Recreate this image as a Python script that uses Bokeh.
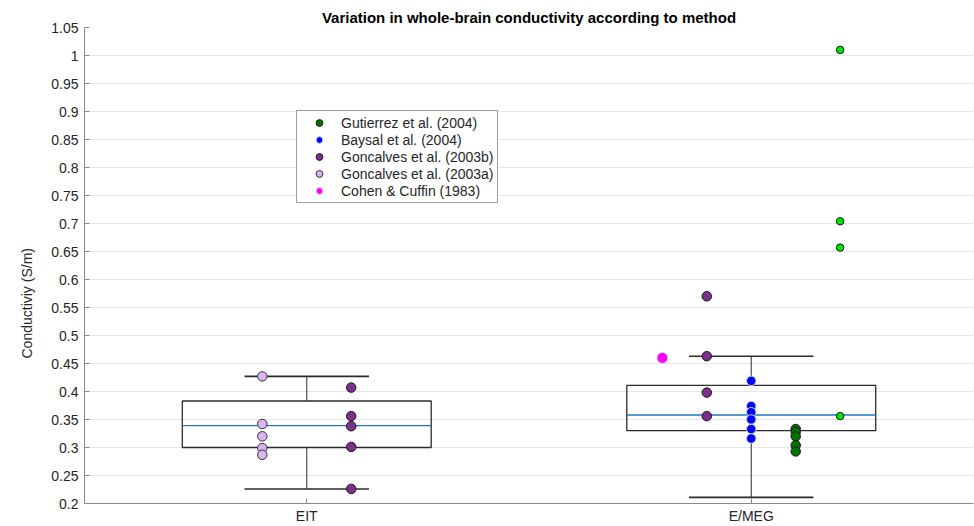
from bokeh.plotting import figure
from bokeh.models import Range1d, FixedTicker, Legend, LegendItem, ColumnDataSource, Title
from bokeh.embed import file_html
from bokeh.resources import INLINE

# ---------------- data ----------------
categories = ["EIT", "E/MEG"]
category_pos = [1, 2]

# box-plot statistics per category
box_q1 = [0.300, 0.330]
box_median = [0.339, 0.358]
box_q3 = [0.383, 0.411]
whisker_low = [0.226, 0.211]
whisker_high = [0.427, 0.463]

y_ticks = [0.2, 0.25, 0.3, 0.35, 0.4, 0.45, 0.5, 0.55, 0.6, 0.65, 0.7, 0.75,
           0.8, 0.85, 0.9, 0.95, 1.0, 1.05]
y_tick_labels = ["0.2", "0.25", "0.3", "0.35", "0.4", "0.45", "0.5", "0.55", "0.6",
                 "0.65", "0.7", "0.75", "0.8", "0.85", "0.9", "0.95", "1", "1.05"]

# individual study values (S/m)
gutierrez_2004_emeg = [0.333, 0.328, 0.320, 0.304, 0.293]
baysal_2004_emeg = [0.419, 0.374, 0.363, 0.350, 0.333, 0.316]
goncalves_2003b_eit = [0.407, 0.356, 0.338, 0.301, 0.226]
goncalves_2003b_emeg = [0.570, 0.463, 0.398, 0.356]
goncalves_2003a_eit = [0.427, 0.342, 0.320, 0.299, 0.287]
cohen_cuffin_1983_emeg = [0.460]
other_emeg = [1.010, 0.704, 0.657, 0.356]

FONT = "Liberation Sans"

p = figure(width=974, height=526, output_backend="svg", toolbar_location=None,
           x_range=Range1d(0.5, 2.5), y_range=Range1d(0.2, 1.05),
           min_border_left=84, min_border_right=1, min_border_top=27, min_border_bottom=23,
           background_fill_color="white", border_fill_color="white")
p.outline_line_color = None

p.title.text = "Variation in whole-brain conductivity according to method"
p.title.align = "center"
p.title.text_font = FONT
p.title.text_font_size = "15px"
p.title.text_font_style = "bold"
p.title.text_color = "#000000"
p.title.standoff = 4

# axes
p.xaxis.ticker = FixedTicker(ticks=category_pos)
p.xaxis.major_label_overrides = {c: n for c, n in zip(category_pos, categories)}
p.yaxis.ticker = FixedTicker(ticks=y_ticks)
p.yaxis.major_label_overrides = {t: l for t, l in zip(y_ticks, y_tick_labels)}
for ax in (p.xaxis, p.yaxis):
    ax.axis_line_color = "#8a8a8a"
    ax.major_tick_line_color = "#8a8a8a"
    ax.major_tick_in = 5
    ax.major_tick_out = 0
    ax.minor_tick_line_color = None
    ax.major_label_text_font = FONT
    ax.major_label_text_font_size = "14px"
    ax.major_label_text_color = "#262626"
p.xaxis.major_label_standoff = 4
p.yaxis.major_label_standoff = 6
p.xgrid.grid_line_color = None
p.ygrid.grid_line_color = "#e6e6e6"
p.ygrid.grid_line_width = 1

# y-axis title, sitting below the axis centre as in the reference
ytitle = Title(text="Conductiviy (S/m)", align="left", offset=145,
               text_font=FONT, text_font_size="14px", text_font_style="normal",
               text_color="#262626", standoff=27)
p.add_layout(ytitle, "left")

# ---------------- box plots ----------------
box_half = 0.28
cap_half = 0.14
bsrc = ColumnDataSource(dict(
    pos=category_pos, q1=box_q1, med=box_median, q3=box_q3, lo=whisker_low, hi=whisker_high,
    left=[c - box_half for c in category_pos], right=[c + box_half for c in category_pos],
    cl=[c - cap_half for c in category_pos], cr=[c + cap_half for c in category_pos]))

p.segment(x0="pos", y0="q3", x1="pos", y1="hi", source=bsrc, line_color="#4d4d4d", line_width=1.2)
p.segment(x0="pos", y0="q1", x1="pos", y1="lo", source=bsrc, line_color="#4d4d4d", line_width=1.2)
p.segment(x0="cl", y0="hi", x1="cr", y1="hi", source=bsrc, line_color="#2b2b2b", line_width=1.6)
p.segment(x0="cl", y0="lo", x1="cr", y1="lo", source=bsrc, line_color="#2b2b2b", line_width=1.6)
p.quad(left="left", right="right", bottom="q1", top="q3", source=bsrc,
       fill_color=None, line_color="#2b2b2b", line_width=1.3)
p.segment(x0="left", y0="med", x1="right", y1="med", source=bsrc, line_color="#1f77c4", line_width=1.3)

# ---------------- individual points ----------------
# each entry: (category, values, horizontal offset of the dots from the category centre)
def pts(values_by_cat):
    xs, ys = [], []
    for cat, vals, offset in values_by_cat:
        c = category_pos[categories.index(cat)]
        xs += [c + offset] * len(vals)
        ys += list(vals)
    return ColumnDataSource(dict(x=xs, y=ys))

r_other = p.scatter("x", "y", source=pts([("E/MEG", other_emeg, 0.2)]), size=7.5,
                    fill_color="#00e600", line_color="#1a1a1a", line_width=1)
r_gut = p.scatter("x", "y", source=pts([("E/MEG", gutierrez_2004_emeg, 0.1)]), size=9.5,
                  fill_color="#007300", line_color="#1a1a1a", line_width=1)
r_bay = p.scatter("x", "y", source=pts([("E/MEG", baysal_2004_emeg, 0.0)]), size=9.5,
                  fill_color="#0000ff", line_color="#d8d8d8", line_width=1)
r_g3b = p.scatter("x", "y", source=pts([("EIT", goncalves_2003b_eit, 0.1),
                                        ("E/MEG", goncalves_2003b_emeg, -0.1)]),
                  size=9.5, fill_color="#7e2f8e", line_color="#1a1a1a", line_width=1)
r_g3a = p.scatter("x", "y", source=pts([("EIT", goncalves_2003a_eit, -0.1)]), size=9.5,
                  fill_color="#d9b3f2", line_color="#333333", line_width=1)
r_coh = p.scatter("x", "y", source=pts([("E/MEG", cohen_cuffin_1983_emeg, -0.2)]), size=11,
                  fill_color="#ff00ff", line_color="#d8d8d8", line_width=1)

legend = Legend(items=[
    LegendItem(label="Gutierrez et al. (2004)", renderers=[r_gut]),
    LegendItem(label="Baysal et al. (2004)", renderers=[r_bay]),
    LegendItem(label="Goncalves et al. (2003b)", renderers=[r_g3b]),
    LegendItem(label="Goncalves et al. (2003a)", renderers=[r_g3a]),
    LegendItem(label="Cohen & Cuffin (1983)", renderers=[r_coh]),
], location=(212, 300))
legend.margin = 0
legend.padding = 3
legend.spacing = 0
legend.glyph_width = 38
legend.glyph_height = 17
legend.label_height = 17
legend.label_standoff = 3
legend.label_text_font = FONT
legend.label_text_font_size = "14px"
legend.label_text_color = "#262626"
legend.border_line_color = "#404040"
legend.border_line_width = 1
legend.background_fill_color = "white"
legend.background_fill_alpha = 1
p.add_layout(legend)

open("out.html", "w").write(file_html(p, INLINE))
